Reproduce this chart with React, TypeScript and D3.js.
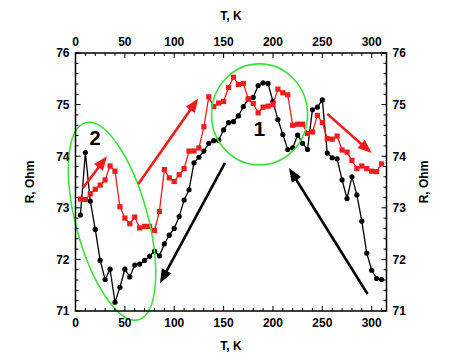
import React from "react";
import * as d3 from "d3";

const temps = [5,10,15,20,25,30,35,40,45,50,55,60,65,70,75,80,85,90,95,100,105,110,115,120,125,130,135,140,145,150,155,160,165,170,175,180,185,190,195,200,205,210,215,220,225,230,235,240,245,250,255,260,265,270,275,280,285,290,295,300,305,310];

const redR = [73.17,73.16,73.27,73.36,73.44,73.54,73.81,73.71,73.02,72.80,72.69,72.82,72.61,72.64,72.64,72.56,72.93,73.74,73.58,73.51,73.64,73.76,74.10,74.10,74.16,74.57,75.15,74.96,75.03,75.06,75.33,75.53,75.39,75.41,75.11,75.02,74.84,74.95,74.97,75.00,75.30,75.23,75.19,74.60,74.62,74.62,74.44,74.47,74.79,74.65,74.34,74.33,74.39,74.12,74.08,73.92,73.76,73.81,73.76,73.71,73.70,73.85];

const blackR = [72.86,74.07,73.13,72.58,71.98,71.61,71.81,71.17,71.46,71.81,71.66,71.89,71.91,71.98,72.06,72.16,72.07,72.30,72.47,72.60,72.83,73.15,73.35,73.87,73.98,74.10,74.25,74.30,74.31,74.51,74.65,74.67,74.78,74.96,75.11,75.14,75.37,75.42,75.41,75.06,74.71,74.42,74.13,74.16,74.41,74.25,74.13,74.90,74.95,75.09,74.06,73.97,73.95,73.54,73.18,73.60,73.25,72.74,72.12,71.79,71.63,71.61];

const xTicks = [0,50,100,150,200,250,300];
const yTicks = [71,72,73,74,75,76];

// annotation arrows in data coordinates: [T0, R0, T1, R1]
const redArrows = [
  [7.3, 73.38, 31.9, 74.0],
  [63.6, 73.46, 124.4, 75.12],
  [255, 74.82, 300, 74.06],
];
const blackArrows = [
  [151.4, 73.87, 85.6, 71.54],
  [295.8, 71.33, 216.2, 73.77],
];

const W = 456, H = 358;
const L = 75.5, R = 386.5, T = 53, B = 311;

const x = d3.scaleLinear().domain([0, 315]).range([L, R]);
const y = d3.scaleLinear().domain([71, 76]).range([B, T]);

const RED = "#ee1c1c";
const GREEN = "#3ee03e";
const FONT = "'Liberation Sans', Arial, sans-serif";

function Arrow({ a, color }: { a: number[]; color: string }) {
  const x0 = x(a[0]), y0 = y(a[1]), x1 = x(a[2]), y1 = y(a[3]);
  const ang = Math.atan2(y1 - y0, x1 - x0);
  const hl = 14, hw = 5.5;
  const bx = x1 - hl * Math.cos(ang), by = y1 - hl * Math.sin(ang);
  const px = -Math.sin(ang) * hw, py = Math.cos(ang) * hw;
  return (
    <g>
      <line x1={x0} y1={y0} x2={bx + 2 * Math.cos(ang)} y2={by + 2 * Math.sin(ang)} stroke={color} strokeWidth={2.6} />
      <polygon points={`${x1},${y1} ${bx + px},${by + py} ${bx - px},${by - py}`} fill={color} />
    </g>
  );
}

export default function App() {
  const redPts = temps.map((t, i) => [t, redR[i]] as [number, number]);
  const blackPts = temps.map((t, i) => [t, blackR[i]] as [number, number]);
  const line = d3.line<[number, number]>().x(d => x(d[0])).y(d => y(d[1]));

  const xMinor = d3.range(0, 316, 10);
  const yMinor = d3.range(71, 76.001, 0.2);

  return (
    <svg width={W} height={H} style={{ position: "absolute", left: 0, top: 0, background: "#fff" }} fontFamily={FONT}>
      {/* data */}
      <path d={line(blackPts) || ""} fill="none" stroke="#000" strokeWidth={1.3} />
      {blackPts.map((d, i) => (
        <circle key={"b" + i} cx={x(d[0])} cy={y(d[1])} r={2.6} fill="#000" />
      ))}
      <path d={line(redPts) || ""} fill="none" stroke={RED} strokeWidth={1.3} />
      {redPts.map((d, i) => (
        <rect key={"r" + i} x={x(d[0]) - 2.6} y={y(d[1]) - 2.6} width={5.2} height={5.2} fill={RED} />
      ))}

      {/* annotations */}
      <ellipse cx={x(37)} cy={y(72.74)} rx={36} ry={102} transform={`rotate(-15 ${x(37)} ${y(72.74)})`} fill="none" stroke={GREEN} strokeWidth={1.6} />
      <ellipse cx={x(186.4)} cy={y(74.81)} rx={48} ry={50.5} fill="none" stroke={GREEN} strokeWidth={1.6} />
      <text x={x(19.9)} y={y(74.21)} textAnchor="middle" fontSize={20} fontWeight="bold">2</text>
      <text x={x(186.2)} y={y(74.39)} textAnchor="middle" fontSize={21} fontWeight="bold">1</text>
      {redArrows.map((a, i) => <Arrow key={"ra" + i} a={a} color={RED} />)}
      {blackArrows.map((a, i) => <Arrow key={"ba" + i} a={a} color="#000" />)}

      {/* frame */}
      <rect x={L} y={T} width={R - L} height={B - T} fill="none" stroke="#000" strokeWidth={1.5} />
      {xMinor.map(v => {
        const major = v % 50 === 0;
        const len = major ? 5 : 3;
        return (
          <g key={"xt" + v}>
            <line x1={x(v)} x2={x(v)} y1={B} y2={B - len} stroke="#000" strokeWidth={1} />
            <line x1={x(v)} x2={x(v)} y1={T} y2={T + len} stroke="#000" strokeWidth={1} />
          </g>
        );
      })}
      {yMinor.map((v, i) => {
        const major = i % 5 === 0;
        const len = major ? 5 : 3;
        return (
          <g key={"yt" + i}>
            <line x1={L} x2={L + len} y1={y(v)} y2={y(v)} stroke="#000" strokeWidth={1} />
            <line x1={R} x2={R - len} y1={y(v)} y2={y(v)} stroke="#000" strokeWidth={1} />
          </g>
        );
      })}
      {xTicks.map(v => (
        <g key={"xl" + v} fontSize={12} fontWeight="bold" textAnchor="middle">
          <text x={x(v)} y={327}>{v}</text>
          <text x={x(v)} y={46}>{v}</text>
        </g>
      ))}
      {yTicks.map(v => (
        <g key={"yl" + v} fontSize={12} fontWeight="bold">
          <text x={L - 6} y={y(v) + 4.3} textAnchor="end">{v}</text>
          <text x={R + 6} y={y(v) + 4.3} textAnchor="start">{v}</text>
        </g>
      ))}
      <text x={(L + R) / 2} y={350} textAnchor="middle" fontSize={12} fontWeight="bold">T, K</text>
      <text x={(L + R) / 2} y={20} textAnchor="middle" fontSize={12} fontWeight="bold">T, K</text>
      <text transform={`translate(34 ${(T + B) / 2}) rotate(-90)`} textAnchor="middle" fontSize={12} fontWeight="bold">R, Ohm</text>
      <text transform={`translate(428 ${(T + B) / 2}) rotate(-90)`} textAnchor="middle" fontSize={12} fontWeight="bold">R, Ohm</text>
    </svg>
  );
}
